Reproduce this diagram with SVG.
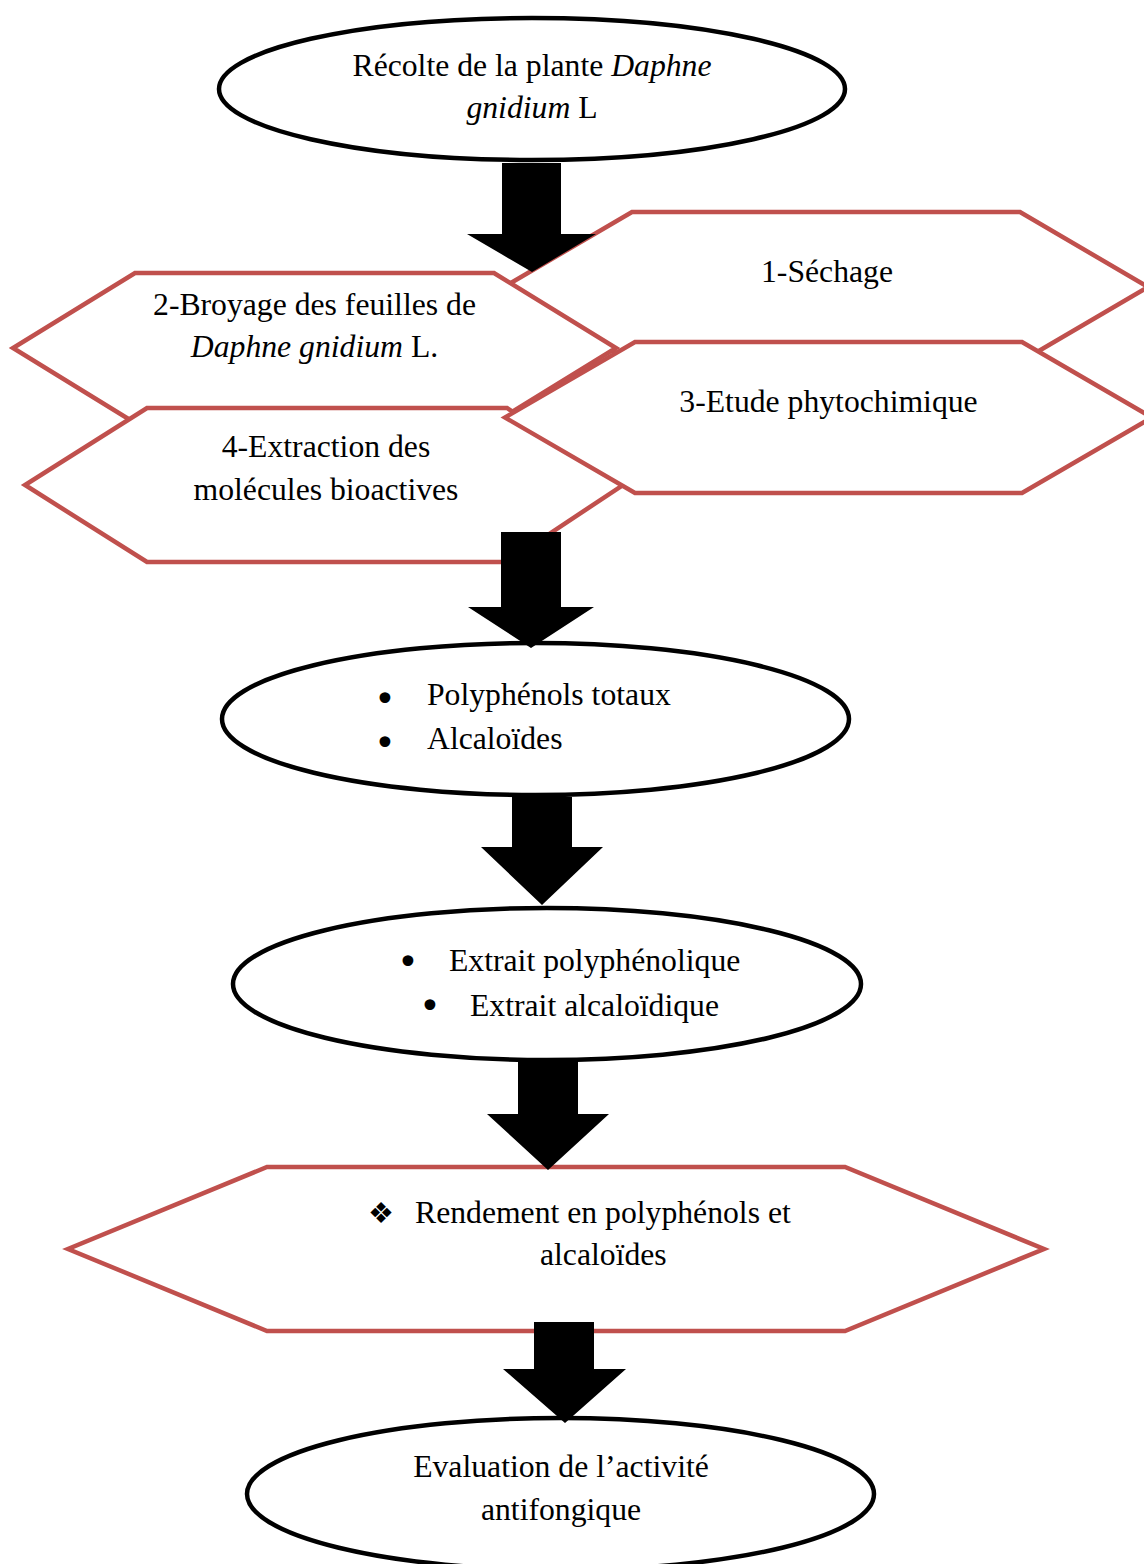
<svg xmlns="http://www.w3.org/2000/svg" width="1144" height="1564" viewBox="0 0 1144 1564">
<style>
.bg{fill:#ffffff}
.ell{fill:#ffffff;stroke:#000000;stroke-width:4.5}
.hex{fill:#ffffff;stroke:#C0504D;stroke-width:4.5;stroke-linejoin:miter}
.t{font-family:"Liberation Serif","Times New Roman",serif;font-size:31.7px;fill:#000000}
.m{text-anchor:middle}
.i{font-style:italic}
.b{font-family:"DejaVu Sans",sans-serif;font-size:37px;fill:#000000;text-anchor:middle}
.d{font-family:"DejaVu Sans",sans-serif;font-size:29px;fill:#000000;text-anchor:middle}
.arr{fill:#000000;stroke:none}
</style>
<rect class="bg" x="0" y="0" width="1144" height="1564"/>
<g id="nodes">
<g id="n-recolte">
<ellipse class="ell" cx="532" cy="89" rx="313" ry="71"/>
<text class="t m" x="532" y="76">Récolte de la plante <tspan class="i">Daphne</tspan></text>
<text class="t m" x="532" y="118"><tspan class="i">gnidium</tspan> L</text>
</g>
<g id="n-sechage">
<polygon class="hex" points="632,212 1020,212 1148,287 1020,362 632,362 504,287"/>
<text class="t m" x="827" y="282">1-Séchage</text>
</g>
<g id="n-broyage">
<polygon class="hex" points="135,273 494,273 616,348 494,423 135,423 13,348"/>
<text class="t m" x="314.5" y="315">2-Broyage des feuilles de</text>
<text class="t m" x="314.5" y="357"><tspan class="i">Daphne gnidium</tspan> L.</text>
</g>
<g id="n-extraction">
<polygon class="hex" points="147,408 507,408 623,485 507,562 147,562 25,485"/>
<text class="t m" x="326" y="457">4-Extraction des</text>
<text class="t m" x="326" y="500">molécules bioactives</text>
</g>
<g id="n-etude">
<polygon class="hex" points="635,342 1022,342 1152,417.5 1022,493 635,493 505,417.5"/>
<text class="t m" x="828.5" y="412">3-Etude phytochimique</text>
</g>
<g id="n-polyphenols">
<ellipse class="ell" cx="535.5" cy="719" rx="313.5" ry="76"/>
<text class="b" x="385" y="712">•</text>
<text class="t" x="427" y="705">Polyphénols totaux</text>
<text class="b" x="385" y="756">•</text>
<text class="t" x="427" y="749">Alcaloïdes</text>
</g>
<g id="n-extraits">
<ellipse class="ell" cx="547" cy="984" rx="314" ry="76"/>
<text class="b" x="408" y="975">•</text>
<text class="t" x="449" y="971">Extrait polyphénolique</text>
<text class="b" x="430" y="1019">•</text>
<text class="t" x="470" y="1016">Extrait alcaloïdique</text>
</g>
<g id="n-rendement">
<polygon class="hex" points="267,1167 845,1167 1044,1249 845,1331 267,1331 68,1249"/>
<text class="d" x="381" y="1223">❖</text>
<text class="t" x="415" y="1223">Rendement en polyphénols et</text>
<text class="t" x="540" y="1265">alcaloïdes</text>
</g>
<g id="n-evaluation">
<ellipse class="ell" cx="560.5" cy="1494" rx="313.5" ry="76"/>
<text class="t m" x="561" y="1477">Evaluation de l’activité</text>
<text class="t m" x="561" y="1520">antifongique</text>
</g>
</g>
<g id="connectors">
<polygon class="arr" points="502,163 561,163 561,234 596,234 532,272 467,234 502,234"/>
<polygon class="arr" points="501,532 561,532 561,607 594,607 531,648 468,607 501,607"/>
<polygon class="arr" points="512,797 572,797 572,847 603,847 542,905 481,847 512,847"/>
<polygon class="arr" points="518,1062 578,1062 578,1114 609,1114 548,1170 487,1114 518,1114"/>
<polygon class="arr" points="534,1322 594,1322 594,1369 626,1369 565,1423 503,1369 534,1369"/>
</g>
</svg>
